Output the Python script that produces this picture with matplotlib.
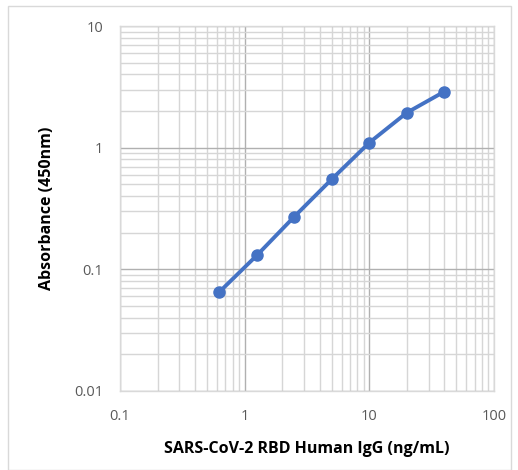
import matplotlib
matplotlib.use("Agg")
import matplotlib.pyplot as plt
from matplotlib.patches import Rectangle
from matplotlib.ticker import LogLocator, FixedLocator, FixedFormatter, NullFormatter

# Стандартная кривая ИФА
conc_ng_ml = [0.625, 1.25, 2.5, 5, 10, 20, 40]
absorbance = [0.065, 0.13, 0.271, 0.551, 1.10, 1.94, 2.89]

x_ticks = [0.1, 1, 10, 100]
x_tick_labels = ["0.1", "1", "10", "100"]
y_ticks = [0.01, 0.1, 1, 10]
y_tick_labels = ["0.01", "0.1", "1", "10"]

plt.rcParams["font.family"] = ["Open Sans", "DejaVu Sans"]

fig = plt.figure(figsize=(5.18, 4.70), dpi=100)
fig.patches.append(Rectangle((8 / 518, 0), 503 / 518, 1 - 6 / 470,
                             transform=fig.transFigure, fill=False,
                             edgecolor="#d9d9d9", linewidth=1))
ax = fig.add_axes([120 / 518, 1 - 391 / 470, 374 / 518, 365 / 470])

ax.plot(conc_ng_ml, absorbance, "-o", color="#4472C4", linewidth=2.8,
        markersize=8, zorder=3)

ax.set_xscale("log")
ax.set_yscale("log")
ax.set_xlim(0.1, 100)
ax.set_ylim(0.01, 10)

ax.xaxis.set_major_locator(FixedLocator(x_ticks))
ax.xaxis.set_major_formatter(FixedFormatter(x_tick_labels))
ax.yaxis.set_major_locator(FixedLocator(y_ticks))
ax.yaxis.set_major_formatter(FixedFormatter(y_tick_labels))
ax.xaxis.set_minor_locator(LogLocator(base=10, subs=range(2, 10), numticks=20))
ax.yaxis.set_minor_locator(LogLocator(base=10, subs=range(2, 10), numticks=20))
ax.xaxis.set_minor_formatter(NullFormatter())
ax.yaxis.set_minor_formatter(NullFormatter())

ax.grid(True, which="major", color="#b0b0b0", linewidth=1.0)
ax.grid(True, which="minor", color="#d6d6d6", linewidth=1.0)
ax.set_axisbelow(True)

for s in ax.spines.values():
    s.set_color("#d9d9d9")
    s.set_linewidth(1.0)

ax.tick_params(which="both", length=0, labelsize=10.5, labelcolor="#595959")
ax.tick_params(axis="x", pad=13)
ax.tick_params(axis="y", pad=12)

ax.set_xlabel("SARS-CoV-2 RBD Human IgG (ng/mL)", fontsize=11.5,
              fontweight="bold", labelpad=12)
ax.set_ylabel("Absorbance (450nm)", fontsize=11.5, fontweight="bold",
              labelpad=14)

fig.savefig("out.png", dpi=100)
